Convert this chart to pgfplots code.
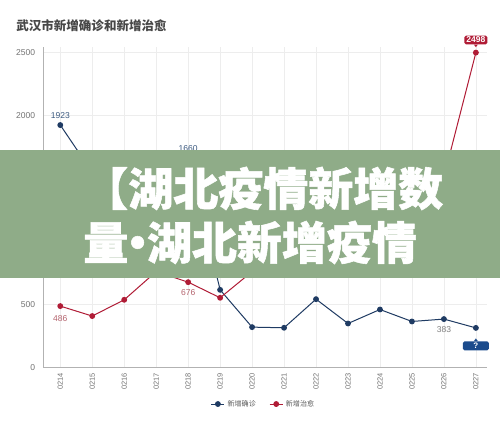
\documentclass[border=0pt]{standalone}
\usepackage{fontspec}
\setmainfont{Liberation Sans}
\newfontfamily\cjk{Noto Sans CJK SC}
\newfontfamily\cjkheavy{Noto Sans CJK SC}[BoldFeatures={FakeBold=1.2}]
\usepackage{pgfplots}
\pgfplotsset{compat=1.18}

\definecolor{qz}{HTML}{1F3B63}
\definecolor{zy}{HTML}{B01C36}
\definecolor{qzbox}{HTML}{1B4B8C}
\definecolor{banner}{HTML}{8FAC88}
\definecolor{qzlab}{HTML}{3C5A80}
\definecolor{zylab}{HTML}{B5656F}

\begin{document}
\begin{tikzpicture}
\useasboundingbox (0,0) rectangle (375pt,321pt);
\fill[white] (0,0) rectangle (375pt,321pt);
\node[anchor=west, inner sep=0, text=black!72,
  font=\cjk\bfseries\fontsize{9.4}{11}\selectfont] at (12pt,301.5pt) {武汉市新增确诊和新增治愈};

\begin{axis}[
  at={(32.5pt,45.5pt)}, anchor=south west,
  scale only axis, width=332.8pt, height=240.2pt,
  xmin=-0.53, xmax=13.35, ymin=0, ymax=2542,
  axis x line=bottom, axis y line=left,
  axis line style={-, draw=black!30, line width=0.6pt},
  xtick={0,...,13},
  xticklabels={0214,0215,0216,0217,0218,0219,0220,0221,0222,0223,0224,0225,0226,0227},
  ytick={0,500,1000,1500,2000,2500},
  grid=major, major grid style={draw=black!7, line width=0.5pt},
  major tick length=0pt,
  xticklabel style={rotate=90, anchor=east, inner sep=0, text=black!55,
    font=\fontsize{5.6}{6}\selectfont},
  xticklabel shift=4.3pt,
  yticklabel style={inner sep=0, text=black!55, font=\fontsize{6.4}{7}\selectfont},
  yticklabel shift=6pt,
  /pgf/number format/assume math mode=true,
  /pgf/number format/set thousands separator={},
  clip=false,
  legend columns=2,
  legend style={at={(0.497,-0.1146)}, anchor=center, draw=none, fill=none,
    font=\cjk\fontsize{5.3}{6}\selectfont, text=black!65,
    /tikz/every even column/.append style={column sep=8pt}},
  legend image code/.code={
    \draw[#1, mark=none] (0pt,0pt) -- (9.8pt,0pt);
    \draw[#1, only marks] plot coordinates {(4.9pt,0pt)};},
]
\addplot[qz, line width=0.75pt, mark=*, mark size=1.8pt] coordinates {
  (0,1923) (1,1548) (2,1104) (3,1372) (4,1660) (5,615) (6,319)
  (7,314) (8,541) (9,348) (10,459) (11,364) (12,383) (13,313)};
\addlegendentry{新增确诊}
\addplot[zy, line width=0.75pt, mark=*, mark size=1.8pt] coordinates {
  (0,486) (1,407) (2,536) (3,760) (4,676) (5,552) (6,760)
  (7,1010) (8,1230) (9,1180) (10,1350) (11,1420) (12,1510) (13,2498)};
\addlegendentry{新增治愈}

\node[text=qzlab, font=\fontsize{6.4}{7}\selectfont] at (axis cs:0,1923) [yshift=7pt] {1923};
\node[text=qzlab, font=\fontsize{6.4}{7}\selectfont] at (axis cs:4,1660) [yshift=7.5pt] {1660};
\node[text=black!50, font=\fontsize{6.4}{7}\selectfont] at (axis cs:12,383) [yshift=-8.2pt] {383};
\node[text=zylab, font=\fontsize{6.4}{7}\selectfont] at (axis cs:0,486) [yshift=-9pt] {486};
\node[text=zylab, font=\fontsize{6.4}{7}\selectfont] at (axis cs:4,676) [yshift=-7.9pt] {676};
\node[fill=zy, text=white, rounded corners=1.2pt, inner xsep=1.5pt, inner ysep=1pt,
  font=\bfseries\fontsize{6.4}{7}\selectfont] (lab27r) at (axis cs:13,2498) [yshift=9.5pt] {2498};
\fill[zy] ([xshift=-1.5pt]lab27r.south) -- ([xshift=1.5pt]lab27r.south) -- ([yshift=-2pt]lab27r.south) -- cycle;
\node[fill=qzbox, text=white, rounded corners=1.2pt, minimum width=19.5pt, minimum height=6.8pt,
  inner sep=0.5pt, font=\bfseries\fontsize{6}{7}\selectfont] (lab27b) at (axis cs:13,313) [yshift=-13.5pt] {?};
\fill[qzbox] ([xshift=-1.5pt]lab27b.north) -- ([xshift=1.5pt]lab27b.north) -- ([yshift=2pt]lab27b.north) -- cycle;
\end{axis}

\fill[banner] (0,112.5pt) rectangle (375pt,208.5pt);
\node[anchor=base west, inner sep=0, text=white,
  font=\cjkheavy\bfseries\fontsize{33.75}{40}\selectfont] at (62.25pt,166.8pt) {【湖北疫情新增数};
\node[anchor=base west, inner sep=0, text=white,
  font=\cjkheavy\bfseries\fontsize{33.75}{40}\selectfont] at (62.25pt,126.3pt) {量\makebox[14pt]{·}湖北新增疫情};
\end{tikzpicture}
\end{document}
